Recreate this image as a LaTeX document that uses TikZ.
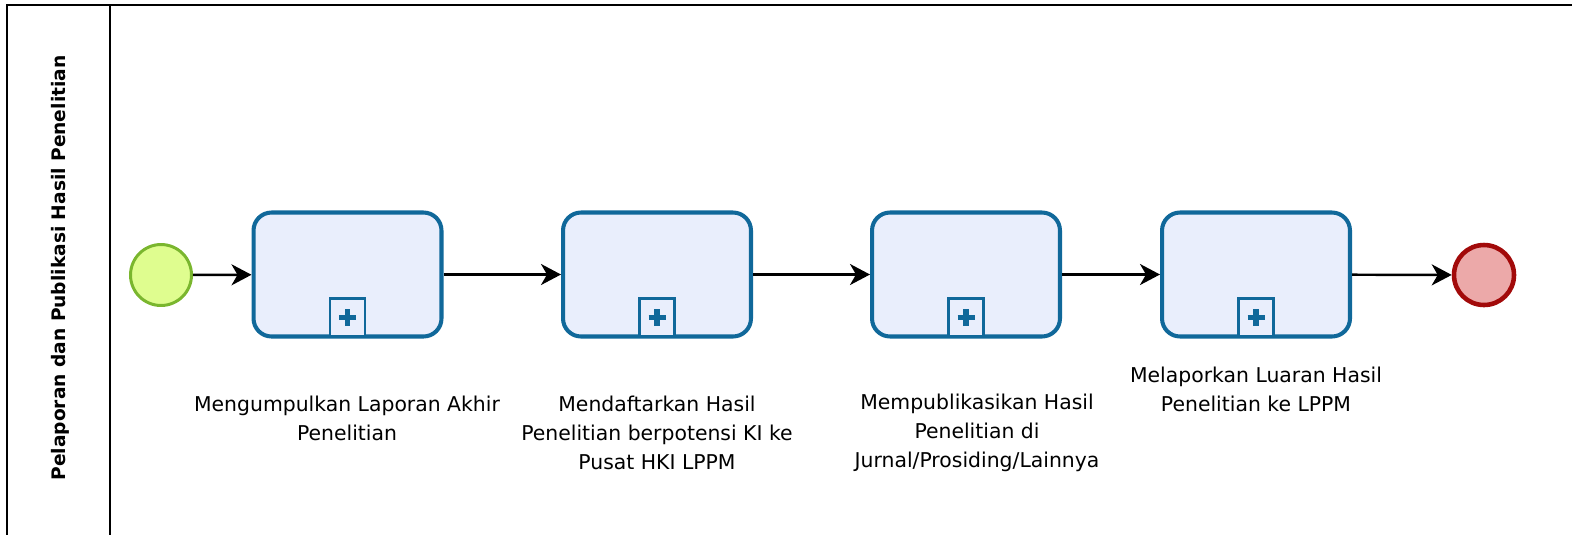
\documentclass[tikz,border=0pt]{standalone}
\usepackage{fontspec}
\setmainfont{DejaVu Sans}
\usetikzlibrary{positioning}
\usetikzlibrary{arrows.meta}
\definecolor{taskblue}{HTML}{10689A}
\definecolor{taskfill}{HTML}{E9EEFC}
\definecolor{startline}{HTML}{7AB62E}
\definecolor{startfill}{HTML}{DFFD8F}
\definecolor{endline}{HTML}{A20A0A}
\definecolor{endfill}{HTML}{ECA9A9}
\tikzset{
    task/.style={draw=taskblue, fill=taskfill, line width=2.3pt, rounded corners=0.36cm,
        minimum width=3.76cm, minimum height=2.48cm},
    marker/.style={draw=taskblue, fill=taskfill, line width=1.2pt,
        minimum width=0.7cm, minimum height=0.76cm, inner sep=0pt},
    startev/.style={circle, draw=startline, fill=startfill, line width=1.7pt, minimum size=1.22cm},
    endev/.style={circle, draw=endline, fill=endfill, line width=2.6pt, minimum size=1.2cm},
    flow/.style={-{Stealth[length=0.4cm,width=0.42cm,inset=0.12cm]}, line width=1.4pt},
    caption/.style={align=center, font=\fontsize{11.6}{16.5}\selectfont}
}
\newcommand{\plusmark}[1]{%
    \draw[taskblue, line width=3pt] ([xshift=-0.17cm]#1.center) -- ([xshift=0.17cm]#1.center);
    \draw[taskblue, line width=3pt] ([yshift=-0.17cm]#1.center) -- ([yshift=0.17cm]#1.center);
}

\begin{document}
\begin{tikzpicture}[x=0.02cm, y=-0.02cm]
    \useasboundingbox (0,0) rectangle (1572,535);

    % pool and lane header
    \draw[line width=1.1pt] (1572,5) -- (7,5) -- (7,535);
    \draw[line width=1.1pt] (110,5) -- (110,535);
    \node[rotate=90, font=\bfseries\fontsize{10.6}{13}\selectfont] (LANE) at (60,268)
        {Pelaporan dan Publikasi Hasil Penelitian};

    \node[startev] (START) at (161,275) {};
    \node[task] (COLLECT) at (347.5,274.5) {};
    \node[task] (REGISTER) at (657,274.5) {};
    \node[task] (PUBLISH) at (966,274.5) {};
    \node[task] (REPORT) at (1256,274.5) {};
    \node[endev] (END) at (1484,275) {};

    \foreach \t/\m in {COLLECT/MCOLLECT, REGISTER/MREGISTER, PUBLISH/MPUBLISH, REPORT/MREPORT} {
        \node[marker, anchor=south] (\m) at ([yshift=0.02cm]\t.south) {};
        \plusmark{\m}
    }

    \node[caption] (LCOLLECT) at (347,418) {Mengumpulkan Laporan Akhir\\Penelitian};
    \node[caption] (LREGISTER) at (657,433) {Mendaftarkan Hasil\\Penelitian berpotensi KI ke\\Pusat HKI LPPM};
    \node[caption] (LPUBLISH) at (977,433) {Mempublikasikan Hasil\\Penelitian di\\Jurnal/Prosiding/Lainnya};
    \node[caption] (LREPORT) at (1256,389) {Melaporkan Luaran Hasil\\Penelitian ke LPPM};

    \draw[flow] (START) -- (COLLECT);
    \draw[flow] (COLLECT) -- (REGISTER);
    \draw[flow] (REGISTER) -- (PUBLISH);
    \draw[flow] (PUBLISH) -- (REPORT);
    \draw[flow] (REPORT) -- (END);
\end{tikzpicture}
\end{document}
